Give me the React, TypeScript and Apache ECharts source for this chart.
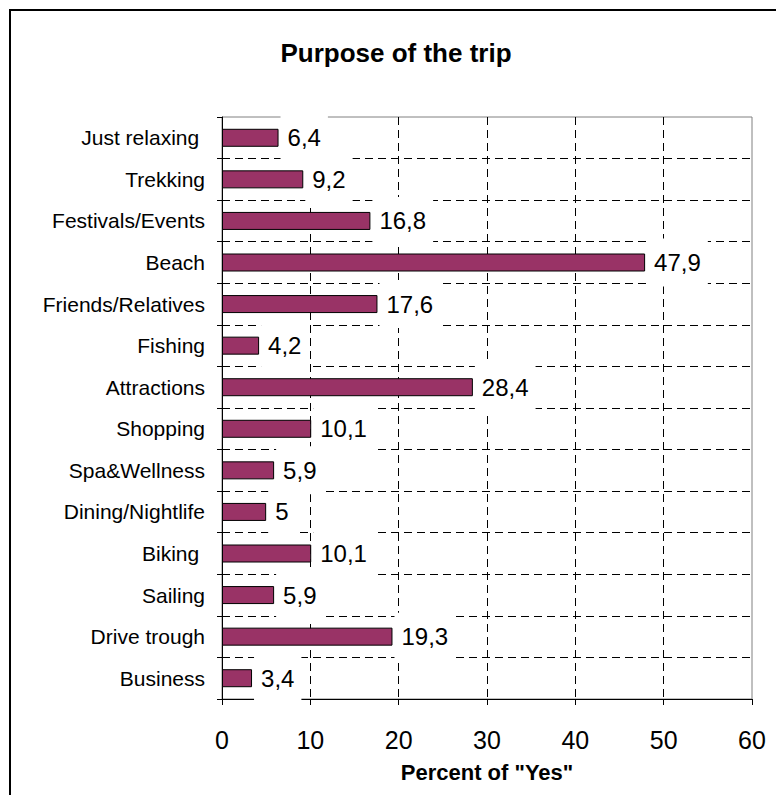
import React, { useEffect, useRef } from "react";
import * as echarts from "echarts";

const titleText = "Purpose of the trip";
const axisTitle = 'Percent of "Yes"';
const categories = [
  "Just relaxing ",
  "Trekking",
  "Festivals/Events",
  "Beach",
  "Friends/Relatives",
  "Fishing",
  "Attractions",
  "Shopping",
  "Spa&Wellness",
  "Dining/Nightlife",
  "Biking ",
  "Sailing",
  "Drive trough",
  "Business",
];
const values = [6.4, 9.2, 16.8, 47.9, 17.6, 4.2, 28.4, 10.1, 5.9, 5, 10.1, 5.9, 19.3, 3.4];
const xMin = 0;
const xMax = 60;
const xStep = 10;

const FONT = "'Liberation Sans', Arial, Helvetica, sans-serif";

export default function App() {
  const ref = useRef<HTMLDivElement>(null);
  useEffect(() => {
    const chart = echarts.init(ref.current!, null, { renderer: "svg" });
    chart.setOption({
      animation: false,
      backgroundColor: "#fff",
      textStyle: { fontFamily: FONT },
      title: {
        text: titleText,
        left: 396,
        top: 39.5,
        padding: 0,
        textAlign: "center",
        textStyle: {
          fontFamily: FONT,
          fontSize: 26,
          lineHeight: 26,
          fontWeight: "bold",
          color: "#000",
        },
      },
      graphic: [
        {
          type: "rect",
          silent: true,
          shape: { x: 10, y: 10, width: 1200, height: 1200 },
          style: { fill: "transparent", stroke: "#000", lineWidth: 2 },
        },
      ],
      grid: {
        left: 222,
        top: 117,
        width: 530,
        height: 582,
        show: true,
        borderColor: "#808080",
        borderWidth: 1,
        backgroundColor: "transparent",
        containLabel: false,
      },
      xAxis: {
        type: "value",
        min: xMin,
        max: xMax,
        interval: xStep,
        name: axisTitle,
        nameLocation: "middle",
        nameGap: 62,
        nameTextStyle: {
          fontFamily: FONT,
          fontSize: 22,
          lineHeight: 22,
          fontWeight: "bold",
          color: "#000",
        },
        axisLine: { show: true, lineStyle: { color: "#000", width: 1 } },
        axisTick: { show: true, length: 6, lineStyle: { color: "#000" } },
        axisLabel: {
          margin: 28,
          fontFamily: FONT,
          fontSize: 25,
          lineHeight: 25,
          color: "#000",
        },
        splitLine: {
          show: true,
          showMinLine: false,
          showMaxLine: false,
          lineStyle: { color: "#000", width: 1, type: [8, 5] },
        },
      },
      yAxis: {
        type: "category",
        data: categories,
        inverse: true,
        axisLine: { show: true, lineStyle: { color: "#000", width: 1 } },
        axisTick: { show: true, length: 5, interval: 0, lineStyle: { color: "#000" } },
        axisLabel: {
          interval: 0,
          margin: 17,
          fontFamily: FONT,
          fontSize: 21,
          color: "#000",
        },
        splitLine: {
          show: true,
          interval: 0,
          showMinLine: false,
          showMaxLine: false,
          lineStyle: { color: "#000", width: 1, type: [8, 5] },
        },
      },
      series: [
        {
          type: "bar",
          data: values,
          barWidth: 18,
          itemStyle: { color: "#993366", borderColor: "#000", borderWidth: 1 },
          label: {
            show: true,
            position: "right",
            distance: 2,
            fontFamily: FONT,
            fontSize: 24,
            lineHeight: 24,
            color: "#000",
            backgroundColor: "#fff",
            padding: [12, 7, 12, 7],
            formatter: (p: any) => String(p.value).replace(".", ","),
          },
        },
      ],
    });
    return () => chart.dispose();
  }, []);
  return (
    <div
      ref={ref}
      style={{ position: "absolute", left: 0, top: 0, width: 776, height: 795 }}
    />
  );
}
